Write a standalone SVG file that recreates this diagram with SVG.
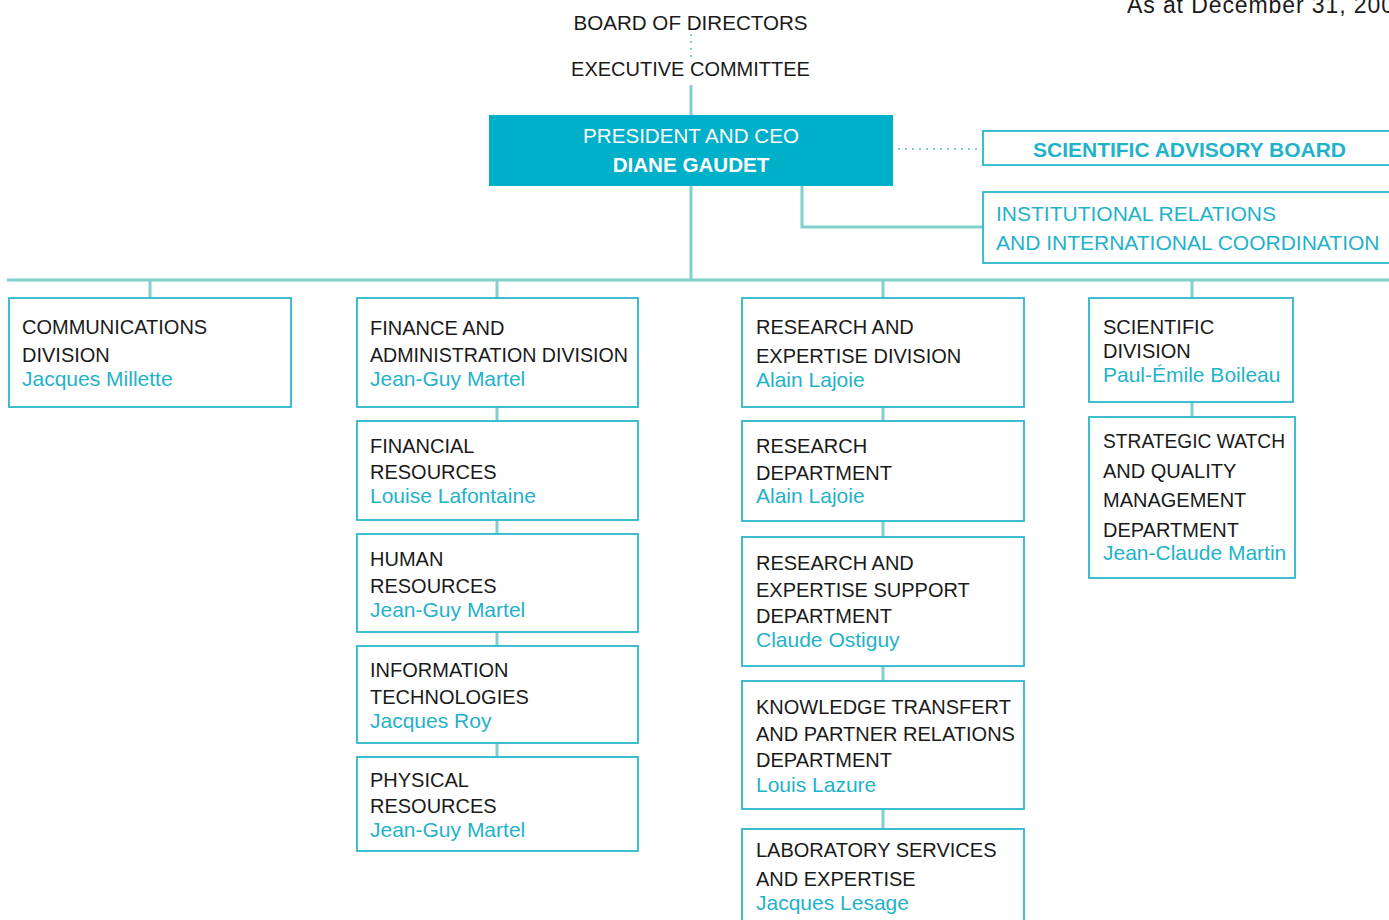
<svg xmlns="http://www.w3.org/2000/svg" width="1389" height="920" viewBox="0 0 1389 920">
<style>
text{font-family:"Liberation Sans",Arial,Helvetica,sans-serif;font-size:20px;fill:#1a1a1a}
.nm{fill:#1fb2c9;font-size:21px}
.top{font-size:20.6px}
.box{fill:#fff;stroke:#2bb7ca;stroke-width:1.8}
.ln{stroke:#80d0cc;stroke-width:3;fill:none}
.dot{stroke:#80d0cc;stroke-width:2;fill:none;stroke-dasharray:2 5}
.blue{fill:#1fb2c9;font-size:21px}
</style>
<rect width="1389" height="920" fill="#fff"/>
<text x="1127" y="13" style="font-size:23px;letter-spacing:0.9px">As at December 31, 200</text>

<g id="connectors">
<line class="dot" x1="691" y1="34" x2="691" y2="57"/>
<line class="ln" x1="691" y1="85" x2="691" y2="281"/>
<polyline class="ln" points="802,186 802,227 983,227"/>
<line class="dot" x1="898" y1="149" x2="983" y2="149"/>
<line class="ln" x1="7" y1="280" x2="1389" y2="280"/>
<line class="ln" x1="150" y1="280" x2="150" y2="298"/>
<line class="ln" x1="497" y1="280" x2="497" y2="757"/>
<line class="ln" x1="883" y1="280" x2="883" y2="829"/>
<line class="ln" x1="1192" y1="280" x2="1192" y2="417"/>
</g>

<g id="board">
<text x="690.5" y="30" text-anchor="middle" class="top">BOARD OF DIRECTORS</text>
</g>
<g id="exec">
<text x="690.5" y="76" text-anchor="middle">EXECUTIVE COMMITTEE</text>
</g>
<g id="ceo">
<rect x="489" y="115" width="404" height="71" fill="#00afc8"/>
<text x="691" y="143" text-anchor="middle" class="top" style="fill:#fff">PRESIDENT AND CEO</text>
<text x="691" y="172" text-anchor="middle" class="top" style="fill:#fff;font-weight:bold">DIANE GAUDET</text>
</g>
<g id="sab">
<rect class="box" x="983" y="131" width="420" height="34"/>
<text x="1189.5" y="157" text-anchor="middle" class="blue" style="font-weight:bold">SCIENTIFIC ADVISORY BOARD</text>
</g>
<g id="irc">
<rect class="box" x="983" y="192" width="420" height="71"/>
<text x="996" y="221" class="blue">INSTITUTIONAL RELATIONS</text>
<text x="996" y="250" class="blue">AND INTERNATIONAL COORDINATION</text>
</g>

<g id="communications">
<rect class="box" x="9" y="298" width="282" height="109"/>
<text x="22" y="334">COMMUNICATIONS</text>
<text x="22" y="362">DIVISION</text>
<text x="22" y="386" class="nm">Jacques Millette</text>
</g>

<g id="finance">
<rect class="box" x="357" y="298" width="281" height="109"/>
<text x="370" y="335">FINANCE AND</text>
<text x="370" y="362" textLength="258" lengthAdjust="spacingAndGlyphs">ADMINISTRATION DIVISION</text>
<text x="370" y="386" class="nm">Jean-Guy Martel</text>
</g>
<g id="financial-resources">
<rect class="box" x="357" y="421" width="281" height="99"/>
<text x="370" y="453">FINANCIAL</text>
<text x="370" y="479">RESOURCES</text>
<text x="370" y="503" class="nm">Louise Lafontaine</text>
</g>
<g id="human-resources">
<rect class="box" x="357" y="534" width="281" height="98"/>
<text x="370" y="566">HUMAN</text>
<text x="370" y="593">RESOURCES</text>
<text x="370" y="617" class="nm">Jean-Guy Martel</text>
</g>
<g id="it">
<rect class="box" x="357" y="646" width="281" height="97"/>
<text x="370" y="677">INFORMATION</text>
<text x="370" y="704">TECHNOLOGIES</text>
<text x="370" y="728" class="nm">Jacques Roy</text>
</g>
<g id="physical-resources">
<rect class="box" x="357" y="757" width="281" height="94"/>
<text x="370" y="787">PHYSICAL</text>
<text x="370" y="813">RESOURCES</text>
<text x="370" y="837" class="nm">Jean-Guy Martel</text>
</g>

<g id="research-division">
<rect class="box" x="742" y="298" width="282" height="109"/>
<text x="756" y="334">RESEARCH AND</text>
<text x="756" y="363">EXPERTISE DIVISION</text>
<text x="756" y="387" class="nm">Alain Lajoie</text>
</g>
<g id="research-dept">
<rect class="box" x="742" y="421" width="282" height="100"/>
<text x="756" y="453">RESEARCH</text>
<text x="756" y="480">DEPARTMENT</text>
<text x="756" y="503" class="nm">Alain Lajoie</text>
</g>
<g id="support-dept">
<rect class="box" x="742" y="537" width="282" height="129"/>
<text x="756" y="570">RESEARCH AND</text>
<text x="756" y="597">EXPERTISE SUPPORT</text>
<text x="756" y="623">DEPARTMENT</text>
<text x="756" y="647" class="nm">Claude Ostiguy</text>
</g>
<g id="knowledge-dept">
<rect class="box" x="742" y="681" width="282" height="128"/>
<text x="756" y="714">KNOWLEDGE TRANSFERT</text>
<text x="756" y="741">AND PARTNER RELATIONS</text>
<text x="756" y="767">DEPARTMENT</text>
<text x="756" y="792" class="nm">Louis Lazure</text>
</g>
<g id="laboratory">
<rect class="box" x="742" y="829" width="282" height="110"/>
<text x="756" y="857">LABORATORY SERVICES</text>
<text x="756" y="886">AND EXPERTISE</text>
<text x="756" y="910" class="nm">Jacques Lesage</text>
</g>

<g id="scientific-division">
<rect class="box" x="1089" y="298" width="204" height="104"/>
<text x="1103" y="334">SCIENTIFIC</text>
<text x="1103" y="358">DIVISION</text>
<text x="1103" y="382" class="nm">Paul-Émile Boileau</text>
</g>
<g id="strategic-watch">
<rect class="box" x="1089" y="417" width="206" height="161"/>
<text x="1103" y="448" textLength="182" lengthAdjust="spacingAndGlyphs">STRATEGIC WATCH</text>
<text x="1103" y="478">AND QUALITY</text>
<text x="1103" y="507">MANAGEMENT</text>
<text x="1103" y="537">DEPARTMENT</text>
<text x="1103" y="560" class="nm">Jean-Claude Martin</text>
</g>
</svg>
